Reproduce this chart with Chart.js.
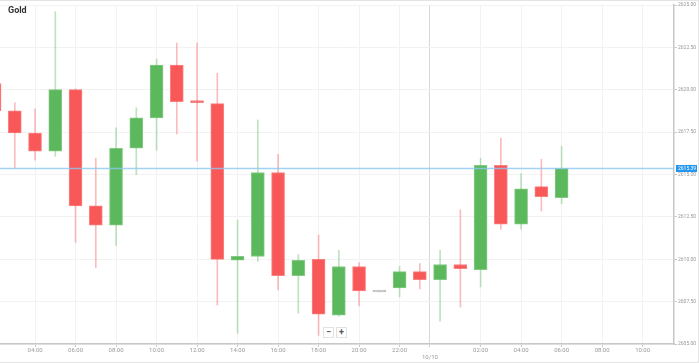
<!DOCTYPE html>
<html>
<head>
<meta charset="utf-8">
<script src="https://cdn.jsdelivr.net/npm/chart.js@4.4.1/dist/chart.umd.min.js"></script>
<style>
  body { margin: 0; background: #fff; }
  #wrap { position: relative; width: 699px; height: 363px; font-family: Roboto, "Open Sans", sans-serif; }
  #frame { position: absolute; left: 0; top: 0; width: 699px; height: 363px; box-sizing: border-box;
    border-top: 1px solid #e4e4e4; border-right: 1px solid #e4e4e4; border-bottom: 1px solid #e4e4e4; pointer-events: none; }
  #title { position: absolute; left: 8px; top: 5px; font-size: 9px; font-weight: bold; color: #333; }
  .zbtn { position: absolute; top: 327px; width: 11px; height: 11px; box-sizing: border-box; border: 1px solid #e2e2e2;
    background: #fff; color: #555; font-size: 9px; font-weight: bold; line-height: 9px; text-align: center; }
</style>
</head>
<body>
<div id="wrap">
  <canvas id="chart" width="699" height="363"></canvas>
  <div id="frame"></div>
  <div id="title">Gold</div>
  <div class="zbtn" style="left:323px">−</div>
  <div class="zbtn" style="left:336px">+</div>
</div>
<script>
// hourly candles, hour 24 = 00:00 on 10/10
const hours  = [2, 3, 4, 5, 6, 7, 8, 9, 10, 11, 12, 13, 14, 15, 16, 17, 18, 19, 20, 21, 22, 23, 24, 25, 26, 27, 28, 29, 30]
const opens  = [2620.37, 2618.76, 2617.45, 2616.37, 2620.01, 2613.15, 2612.01, 2616.55, 2618.34, 2621.45, 2619.36, 2619.18, 2609.95, 2610.16, 2615.12, 2609.03, 2609.99, 2606.70, 2609.57, 2608.07, 2608.31, 2609.27, 2608.79, 2609.69, 2609.39, 2615.54, 2612.07, 2614.28, 2613.63]
const highs  = [2620.90, 2619.24, 2618.88, 2624.61, 2620.05, 2615.96, 2617.75, 2618.94, 2621.81, 2622.76, 2622.76, 2620.97, 2612.31, 2618.22, 2616.19, 2610.28, 2611.42, 2610.52, 2609.81, 2608.07, 2609.57, 2609.75, 2610.52, 2612.91, 2615.96, 2617.15, 2615.06, 2615.90, 2616.67]
const lows   = [2618.40, 2615.36, 2615.84, 2616.07, 2611.00, 2609.51, 2610.82, 2615.00, 2616.43, 2617.39, 2615.78, 2607.30, 2605.63, 2609.87, 2608.19, 2606.82, 2605.51, 2606.64, 2607.24, 2608.07, 2607.78, 2608.25, 2606.34, 2607.18, 2608.37, 2611.78, 2611.78, 2612.85, 2613.27]
const closes = [2618.76, 2617.45, 2616.37, 2620.01, 2613.15, 2612.01, 2616.55, 2618.34, 2621.45, 2619.30, 2619.24, 2609.99, 2610.17, 2615.12, 2609.03, 2609.93, 2606.76, 2609.57, 2608.13, 2608.07, 2609.27, 2608.79, 2609.69, 2609.45, 2615.54, 2612.07, 2614.16, 2613.69, 2615.36]
const lastPrice = 2615.39
const tickHours = [4, 6, 8, 10, 12, 14, 16, 18, 20, 22, 23.5, 26, 28, 30, 32, 34]
const dayBreak = 23.5
const dayLabel = '10/10'

const green = 'rgb(92, 184, 92)'
const red = 'rgb(249, 88, 88)'
const gray = 'rgb(190, 190, 190)'

function candleColor(i, alpha) {
  if (opens[i] === closes[i]) return gray
  const c = closes[i] > opens[i] ? [92, 184, 92] : [249, 88, 88]
  return `rgba(${c[0]}, ${c[1]}, ${c[2]}, ${alpha})`
}

const bodies = hours.map((h, i) => ({ x: h, y: [opens[i], closes[i]] }))
const wicks = hours.map((h, i) => ({ x: h, y: [lows[i], highs[i]] }))

const priceLine = {
  id: 'priceLine',
  afterDatasetsDraw(chart) {
    const { ctx, chartArea, scales } = chart
    const y = Math.round(scales.y.getPixelForValue(lastPrice)) + 0.5
    ctx.save()
    ctx.strokeStyle = 'rgba(140, 200, 240, 0.8)'
    ctx.lineWidth = 1.5
    ctx.beginPath()
    ctx.moveTo(chartArea.left, y)
    ctx.lineTo(chartArea.right, y)
    ctx.stroke()
    ctx.fillStyle = 'rgb(33, 150, 243)'
    ctx.fillRect(chartArea.right + 2, y - 3.5, 21, 7)
    ctx.fillStyle = '#fff'
    ctx.font = '5px Roboto, "Open Sans", sans-serif'
    ctx.textBaseline = 'middle'
    ctx.fillText(lastPrice.toFixed(2), chartArea.right + 4, y)
    ctx.restore()
  }
}

new Chart(document.getElementById('chart'), {
  type: 'bar',
  data: {
    datasets: [
      {
        label: 'body',
        data: bodies,
        order: 0,
        barThickness: 13,
        minBarLength: 2,
        backgroundColor: (ctx) => candleColor(ctx.dataIndex, 1),
        borderColor: (ctx) => candleColor(ctx.dataIndex, 0.75),
        borderWidth: 1,
        borderSkipped: false
      },
      {
        label: 'wick',
        data: wicks,
        order: 1,
        barThickness: 1,
        backgroundColor: (ctx) => candleColor(ctx.dataIndex, 0.4),
        borderWidth: 0
      }
    ]
  },
  options: {
    responsive: false,
    animation: false,
    grouped: false,
    layout: { padding: { top: 5, left: 0, right: 0, bottom: 0 } },
    plugins: { legend: { display: false }, tooltip: { enabled: false } },
    scales: {
      x: {
        type: 'linear',
        min: 2.27,
        max: 35.55,
        offset: false,
        afterBuildTicks: (scale) => { scale.ticks = tickHours.map((v) => ({ value: v })) },
        afterFit: (scale) => { scale.height = 19 },
        grid: {
          offset: false,
          color: (ctx) => (ctx.tick && ctx.tick.value === dayBreak ? '#d8d8d8' : '#f2f2f2'),
          tickLength: 3,
          tickColor: '#c8c8c8'
        },
        border: { color: '#c8c8c8', width: 1.5 },
        ticks: {
          autoSkip: false,
          maxRotation: 0,
          padding: 0,
          color: '#999',
          font: { size: 6, family: 'Roboto, "Open Sans", sans-serif' },
          callback: (v) => {
            if (v === dayBreak) return ['', dayLabel]
            const h = v % 24
            return (h < 10 ? '0' : '') + h + ':00'
          }
        }
      },
      y: {
        position: 'right',
        min: 2605,
        max: 2625,
        afterFit: (scale) => { scale.width = 25 },
        grid: { color: '#f2f2f2', tickLength: 3, tickColor: '#c8c8c8' },
        border: { color: '#c8c8c8', width: 1.5 },
        ticks: {
          stepSize: 2.5,
          padding: 1,
          color: '#999',
          font: { size: 5, family: 'Roboto, "Open Sans", sans-serif' },
          callback: (v) => v.toFixed(2)
        }
      }
    }
  },
  plugins: [priceLine]
})
</script>
</body>
</html>
